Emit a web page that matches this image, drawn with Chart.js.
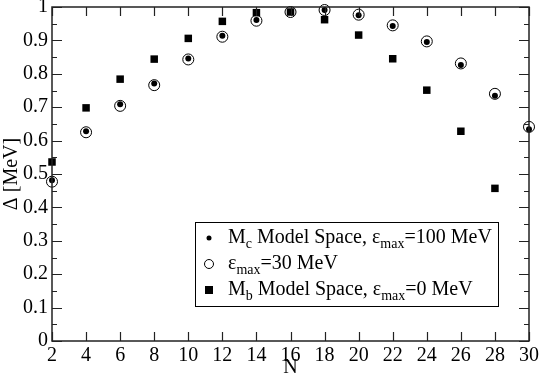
<!DOCTYPE html>
<html>
<head>
<meta charset="utf-8">
<script src="https://cdn.jsdelivr.net/npm/chart.js@4.4.1/dist/chart.umd.min.js"></script>
<style>
  html, body { margin: 0; padding: 0; background: #fff; }
  #wrap { width: 540px; height: 379px; }
</style>
</head>
<body>
<div id="wrap"><canvas id="myChart"></canvas></div>
<script>
// values
const nValues = [2, 4, 6, 8, 10, 12, 14, 16, 18, 20, 22, 24, 26, 28, 30];
const mcEps100 = [0.481, 0.628, 0.709, 0.771, 0.846, 0.914, 0.961, 0.985, 0.991, 0.975, 0.943, 0.895, 0.826, 0.734, 0.634];
const eps30 = [0.477, 0.625, 0.704, 0.766, 0.843, 0.911, 0.959, 0.985, 0.991, 0.977, 0.945, 0.897, 0.831, 0.740, 0.641];
const mbN = [2, 4, 6, 8, 10, 12, 14, 16, 18, 20, 22, 24, 26, 28];
const mbEps0 = [0.536, 0.698, 0.784, 0.844, 0.906, 0.957, 0.983, 0.985, 0.962, 0.916, 0.845, 0.751, 0.628, 0.457];
const xTicks = [2, 4, 6, 8, 10, 12, 14, 16, 18, 20, 22, 24, 26, 28, 30];
const yTicks = [0, 0.1, 0.2, 0.3, 0.4, 0.5, 0.6, 0.7, 0.8, 0.9, 1];

const FONT = 'Liberation Serif';

const toPoints = (xs, ys) => ys.map((y, i) => ({ x: xs[i], y: y }));

// frame, inward ticks and the legend with subscripts
const framePlugin = {
    id: 'frame',
    afterDraw(chart) {
        const ctx = chart.ctx;
        const { left, right, top, bottom } = chart.chartArea;
        const xs = chart.scales.x;
        const ys = chart.scales.y;
        ctx.save();
        ctx.strokeStyle = '#222';
        ctx.lineWidth = 1.5;
        ctx.strokeRect(left, top, right - left, bottom - top);

        ctx.lineWidth = 1.2;
        ctx.beginPath();
        xTicks.forEach(v => {
            const px = Math.round(xs.getPixelForValue(v)) + 0.5;
            ctx.moveTo(px, bottom); ctx.lineTo(px, bottom - 9);
            ctx.moveTo(px, top); ctx.lineTo(px, top + 9);
        });
        for (let i = 0; i <= 20; i++) {
            const v = i * 0.05;
            const len = i % 2 === 0 ? 10 : 5;
            const py = Math.round(ys.getPixelForValue(v)) + 0.5;
            ctx.moveTo(left, py); ctx.lineTo(left + len, py);
            ctx.moveTo(right, py); ctx.lineTo(right - len, py);
        }
        ctx.stroke();

        // legend box
        ctx.fillStyle = '#fff';
        ctx.fillRect(195, 222, 303, 84);
        ctx.strokeStyle = '#000';
        ctx.lineWidth = 1;
        ctx.strokeRect(195.5, 222.5, 303, 84);

        ctx.fillStyle = '#000';
        // symbols
        ctx.beginPath(); ctx.arc(209, 238, 2.5, 0, Math.PI * 2); ctx.fill();
        ctx.beginPath(); ctx.arc(209, 264, 4.5, 0, Math.PI * 2); ctx.stroke();
        ctx.fillRect(205, 286, 8, 8);

        const big = '20px "' + FONT + '"';
        const small = '14px "' + FONT + '"';
        const drawParts = (x, y, parts) => {
            parts.forEach(p => {
                ctx.font = p.sub ? small : big;
                ctx.fillText(p.t, x, p.sub ? y + 5 : y);
                x += ctx.measureText(p.t).width;
            });
        };
        ctx.textBaseline = 'alphabetic';
        drawParts(228, 243, [{ t: 'M' }, { t: 'c', sub: true }, { t: ' Model Space, ε' }, { t: 'max', sub: true }, { t: '=100 MeV' }]);
        drawParts(228, 269, [{ t: 'ε' }, { t: 'max', sub: true }, { t: '=30 MeV' }]);
        drawParts(228, 295, [{ t: 'M' }, { t: 'b', sub: true }, { t: ' Model Space, ε' }, { t: 'max', sub: true }, { t: '=0 MeV' }]);
        ctx.restore();
    }
};

new Chart(document.getElementById('myChart').getContext('2d'), {
    type: 'scatter',
    data: {
        datasets: [
            {
                label: 'Mc Model Space, εmax=100 MeV',
                data: toPoints(nValues, mcEps100),
                pointStyle: 'circle',
                pointRadius: 3,
                backgroundColor: '#000',
                borderColor: '#000',
                borderWidth: 0,
                clip: false,
                order: 1
            },
            {
                label: 'εmax=30 MeV',
                data: toPoints(nValues, eps30),
                pointStyle: 'circle',
                pointRadius: 5.5,
                backgroundColor: 'rgba(0,0,0,0)',
                borderColor: '#000',
                borderWidth: 1,
                clip: false,
                order: 2
            },
            {
                label: 'Mb Model Space, εmax=0 MeV',
                data: toPoints(mbN, mbEps0),
                pointStyle: 'rect',
                pointRadius: 5.3,
                backgroundColor: '#000',
                borderColor: '#000',
                borderWidth: 0,
                clip: false,
                order: 3
            }
        ]
    },
    options: {
        responsive: true,
        maintainAspectRatio: false,
        animation: false,
        layout: { padding: { left: 0, right: 11, top: 7, bottom: 0 } },
        plugins: {
            legend: { display: false },
            tooltip: { enabled: false }
        },
        scales: {
            x: {
                type: 'linear',
                min: 2,
                max: 30,
                afterFit: s => { s.height = 38; s.paddingLeft = 0; s.paddingRight = 0; },
                afterBuildTicks: s => { s.ticks = xTicks.map(v => ({ value: v })); },
                grid: { display: false, drawTicks: false },
                border: { display: false },
                ticks: { color: '#000', padding: 5, maxRotation: 0, autoSkip: false, font: { family: FONT, size: 20, lineHeight: 1 } },
                title: { display: true, text: 'N', color: '#000', padding: { top: 0, bottom: 1 }, font: { family: FONT, size: 20, lineHeight: 1 } }
            },
            y: {
                type: 'linear',
                min: 0,
                max: 1,
                afterFit: s => { s.width = 52; s.paddingTop = 0; s.paddingBottom = 0; },
                afterBuildTicks: s => { s.ticks = yTicks.map(v => ({ value: v })); },
                grid: { display: false, drawTicks: false },
                border: { display: false },
                ticks: {
                    color: '#000', padding: 4, autoSkip: false,
                    font: { family: FONT, size: 20, lineHeight: 1 },
                    callback: v => String(Number(v.toFixed(1)))
                },
                title: { display: true, text: 'Δ [MeV]', color: '#000', padding: { top: 2, bottom: 0 }, font: { family: FONT, size: 20, lineHeight: 1 } }
            }
        }
    },
    plugins: [framePlugin]
});
</script>
</body>
</html>
